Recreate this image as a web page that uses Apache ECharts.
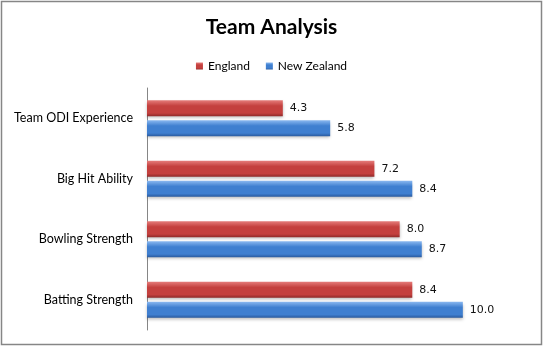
<!DOCTYPE html>
<html>
<head>
<meta charset="utf-8">
<title>Team Analysis</title>
<script src="https://cdn.jsdelivr.net/npm/echarts@6/dist/echarts.min.js"></script>
<style>
  html, body { margin: 0; padding: 0; background: #fff; }
  #chart { width: 543px; height: 347px; }
</style>
</head>
<body>
<div id="chart"></div>
<script>
// Categories listed top to bottom
const categories = ['Team ODI Experience', 'Big Hit Ability', 'Bowling Strength', 'Batting Strength'];
const seriesNames = ['England', 'New Zealand'];
const englandValues = [4.3, 7.2, 8.0, 8.4];
const newZealandValues = [5.8, 8.4, 8.7, 10.0];

const chart = echarts.init(document.getElementById('chart'), null, { renderer: 'canvas' });

function bevel(top, mid, bottom) {
  return new echarts.graphic.LinearGradient(0, 0, 0, 1, [
    { offset: 0, color: top },
    { offset: 0.35, color: mid },
    { offset: 0.8, color: mid },
    { offset: 1, color: bottom }
  ]);
}

const labelStyle = {
  show: true,
  position: 'right',
  distance: 7,
  fontFamily: 'DejaVu Sans',
  fontSize: 11,
  color: '#111',
  formatter: p => p.value.toFixed(1)
};

chart.setOption({
  animation: false,
  title: {
    text: 'Team Analysis',
    left: 'center',
    top: 12,
    textStyle: { fontFamily: 'Lato', fontWeight: 'bold', fontSize: 21, color: '#000' }
  },
  legend: {
    data: seriesNames,
    top: 55,
    left: 'center',
    itemWidth: 7,
    itemHeight: 7,
    itemGap: 16,
    icon: 'rect',
    textStyle: { fontFamily: 'Lato', fontSize: 12, color: '#000' }
  },
  grid: { left: 147, top: 88, width: 379, height: 242, containLabel: false },
  xAxis: {
    type: 'value',
    min: 0,
    max: 12,
    show: false
  },
  yAxis: {
    type: 'category',
    data: categories,
    inverse: true,
    axisLine: { lineStyle: { color: '#868686', width: 1 } },
    axisTick: { show: false },
    axisLabel: { fontFamily: 'Lato', fontSize: 12.5, color: '#000', margin: 14 }
  },
  graphic: [{
    type: 'rect',
    shape: { x: 1.5, y: 1.5, width: 540, height: 343 },
    style: { fill: 'none', stroke: '#868686', lineWidth: 1.5 },
    silent: true
  }],
  series: [
    {
      name: 'England',
      type: 'bar',
      data: englandValues,
      barWidth: 16,
      barGap: '25%',
      itemStyle: {
        color: bevel('#e57c7a', '#c4403e', '#8f2a29'),
        shadowColor: 'rgba(0,0,0,0.25)',
        shadowBlur: 3,
        shadowOffsetY: 2
      },
      label: labelStyle
    },
    {
      name: 'New Zealand',
      type: 'bar',
      data: newZealandValues,
      barWidth: 16,
      barGap: '25%',
      itemStyle: {
        color: bevel('#8ab8f0', '#3f7fd0', '#2a5a9e'),
        shadowColor: 'rgba(0,0,0,0.25)',
        shadowBlur: 3,
        shadowOffsetY: 2
      },
      label: labelStyle
    }
  ]
});
</script>
</body>
</html>
